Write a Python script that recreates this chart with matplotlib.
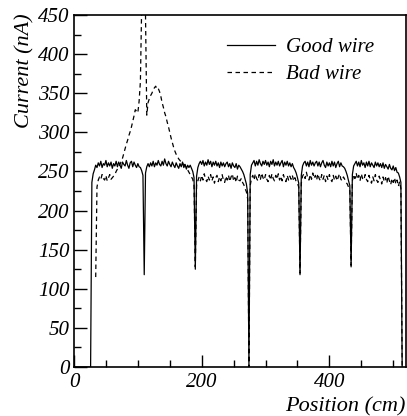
import numpy as np
import matplotlib
matplotlib.use("Agg")
from matplotlib import pyplot as plt
from matplotlib.ticker import MultipleLocator

plt.rcParams['font.family'] = ['Liberation Serif', 'DejaVu Serif']
plt.rcParams['font.style'] = 'italic'

# current along the wire, one value every 2 cm
good_pos = np.arange(0, 516, 2)
good_wire = [
    0, 0, 0, 0, 0, 0, 0, 0, 0, 0,
    0, 0, 0, 0, 236, 247, 252, 258, 255, 261,
    257, 263, 255, 260, 258, 264, 256, 261, 257, 262,
    254, 260, 257, 263, 256, 262, 258, 254, 262, 259,
    257, 264, 258, 254, 261, 263, 256, 262, 258, 255,
    260, 256, 255, 251, 245, 118, 248, 256, 260, 256,
    261, 257, 263, 256, 261, 258, 264, 259, 257, 263,
    258, 266, 260, 257, 263, 259, 256, 262, 258, 255,
    261, 257, 254, 260, 256, 262, 255, 259, 253, 258,
    255, 258, 254, 250, 242, 125, 244, 255, 260, 263,
    259, 264, 257, 262, 258, 265, 259, 263, 256, 262,
    258, 263, 257, 261, 255, 262, 257, 261, 256, 260,
    262, 256, 260, 254, 261, 257, 255, 260, 253, 258,
    256, 253, 250, 246, 240, 234, 222, 0, 246, 258,
    261, 264, 257, 263, 258, 265, 260, 257, 263, 259,
    264, 258, 262, 256, 263, 259, 265, 257, 262, 258,
    263, 257, 261, 264, 256, 262, 258, 263, 257, 261,
    256, 260, 255, 252, 248, 242, 235, 118, 245, 257,
    261, 263, 257, 262, 256, 264, 258, 262, 257, 261,
    263, 257, 262, 256, 261, 264, 258, 255, 262, 257,
    261, 256, 263, 257, 262, 255, 260, 263, 256, 261,
    257, 256, 254, 250, 245, 238, 232, 128, 246, 257,
    260, 263, 257, 262, 256, 264, 258, 261, 255, 262,
    257, 263, 256, 261, 258, 255, 262, 257, 261, 256,
    260, 255, 261, 254, 259, 256, 253, 259, 254, 252,
    257, 251, 255, 249, 248, 243, 236, 0,
]

bad_pos = np.arange(34, 516, 2)
bad_wire = [
    115, 230, 239,
    243, 240, 246, 241, 239, 245, 238, 242, 246, 240,
    242, 244, 246, 250, 253, 256, 259, 263, 267, 273,
    279, 285, 290, 296, 301, 307, 314, 321, 329, 327,
    325, 340, 365, 455, 620, 600, 450, 322, 338, 343,
    347, 350, 354, 357, 359, 355, 356, 352, 346, 338,
    332, 325, 320, 313, 307, 300, 293, 287, 281, 276,
    272, 269, 266, 264, 262, 261, 259, 258, 255, 252,
    249, 246, 243, 240, 232, 128, 232, 238, 243, 238,
    245, 239, 247, 240, 237, 244, 239, 246, 238, 243,
    235, 242, 245, 237, 243, 238, 246, 239, 236, 244,
    239, 245, 237, 243, 247, 238, 242, 236, 244, 239,
    238, 241, 236, 233, 228, 224, 215, 0, 232, 241,
    245, 239, 247, 241, 238, 246, 240, 248, 242, 239,
    246, 240, 237, 245, 239, 247, 241, 238, 245, 240,
    247, 239, 244, 238, 246, 240, 237, 245, 239, 244,
    240, 245, 238, 242, 237, 235, 230, 120, 235, 244,
    247, 241, 249, 242, 239, 246, 240, 248, 241, 245,
    239, 247, 241, 238, 246, 240, 245, 237, 244, 239,
    246, 240, 237, 245, 239, 244, 238, 243, 247, 240,
    238, 243, 240, 236, 234, 230, 225, 130, 238, 246,
    241, 248, 240, 245, 238, 247, 241, 239, 246, 240,
    237, 245, 239, 235, 243, 238, 246, 239, 236, 244,
    239, 234, 243, 237, 242, 235, 244, 238, 233, 241,
    236, 242, 234, 239, 231, 237, 228, 0,
]

fig = plt.figure(figsize=(4.07, 4.16), dpi=100)
ax = fig.add_axes([74 / 407, 1 - 367 / 416, 332 / 407, 352 / 416])

ax.plot(good_pos, good_wire, color='black', lw=0.9, label='Good wire')
ax.plot(bad_pos, bad_wire, color='black', lw=0.9, dashes=(3.6, 2.8), label='Bad wire')

ax.set_xlim(0, 520)
ax.set_ylim(0, 450)
ax.xaxis.set_major_locator(MultipleLocator(200))
ax.xaxis.set_minor_locator(MultipleLocator(50))
ax.yaxis.set_major_locator(MultipleLocator(50))
ax.yaxis.set_minor_locator(MultipleLocator(25))
ax.tick_params(which='both', direction='in', top=False, right=False, labelsize=15)
ax.tick_params(which='major', length=9, width=1)
ax.tick_params(which='minor', length=5, width=1)
ax.tick_params(axis='x', pad=4)
ax.tick_params(axis='y', pad=3)
for sp in ax.spines.values():
    sp.set_linewidth(1.2)

ax.set_ylabel('Current (nA)', fontsize=16, loc='top')
ax.yaxis.set_label_coords(-0.12, 1.005)
ax.set_xlabel('Position (cm)', fontsize=16, loc='right')
ax.xaxis.set_label_coords(1.0, -0.085)

fig.legend(loc='upper left', bbox_to_anchor=(217 / 407, 1 - 27 / 416), frameon=False,
           fontsize=15, handlelength=2.3, handletextpad=0.5, labelspacing=0.35, borderpad=0)

fig.savefig('out.png', dpi=100)
